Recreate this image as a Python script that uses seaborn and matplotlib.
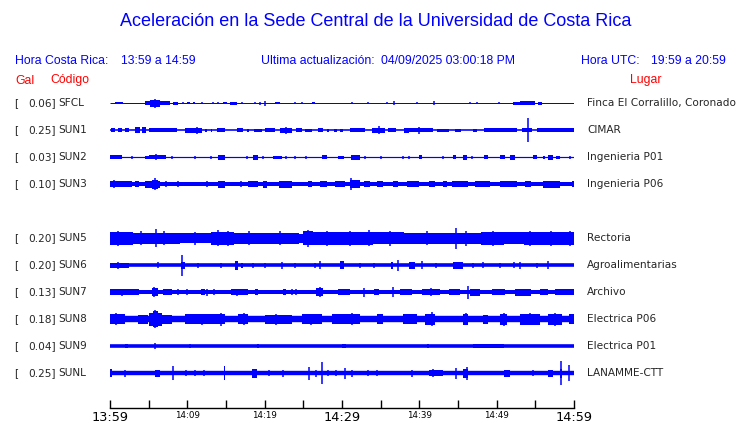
import matplotlib
matplotlib.use("Agg")
import matplotlib.pyplot as plt
import matplotlib.transforms as mtransforms
import seaborn as sns

# stations, top to bottom (row 4 is left empty)
codes = ["SFCL", "SUN1", "SUN2", "SUN3", "SUN5", "SUN6", "SUN7", "SUN8", "SUN9", "SUNL"]
peak_gal = [0.06, 0.25, 0.03, 0.10, 0.20, 0.20, 0.13, 0.18, 0.04, 0.25]
places = ["Finca El Corralillo, Coronado", "CIMAR", "Ingenieria P01", "Ingenieria P06",
          "Rectoria", "Agroalimentarias", "Archivo", "Electrica P06", "Electrica P01", "LANAMME-CTT"]
rows = [0, 1, 2, 3, 5, 6, 7, 8, 9, 10]

# background noise level (half amplitude, screen px)
base_amp = [0.5, 0.8, 0.6, 2.0, 4.5, 1.8, 2.0, 3.2, 1.8, 2.2]

# bursts: (start minute, end minute, half amplitude); start == end is a single spike
sfcl = [(0.7, 1.7, 1.2), (4.5, 5.2, 2), (5.2, 6.5, 3.5), (6.5, 7.8, 2), (5.8, 5.8, 4.5),
        (8.1, 8.8, 1.5), (9.4, 9.4, 1.2), (10.0, 10.3, 1.2), (10.7, 11.0, 1.2), (11.9, 11.9, 1.2),
        (13.3, 13.3, 1.2), (14.0, 14.0, 1.2), (14.6, 15.1, 1.2), (15.5, 16.4, 1.5), (17.1, 17.1, 1.2),
        (18.8, 18.8, 1.2), (19.4, 19.4, 1.5), (20.0, 20.0, 2.5), (21.3, 22.0, 1.2), (23.9, 23.9, 1.2),
        (24.8, 24.8, 1.2), (26.1, 26.5, 1.2), (31.3, 31.3, 1.2), (33.4, 33.4, 1.2), (35.8, 35.8, 1.2),
        (36.7, 36.7, 2), (39.7, 39.7, 1.2), (41.9, 41.9, 2), (46.6, 46.6, 1.2), (47.5, 47.5, 1.2),
        (50.3, 50.3, 1.2), (52.1, 53.0, 1.5), (53.0, 55.0, 2.2), (55.3, 55.9, 1.5)]
sun1 = [(0.1, 0.6, 2), (1.0, 1.5, 2), (1.9, 2.5, 2), (3.2, 3.9, 3), (4.1, 4.7, 3), (5.0, 8.6, 2),
        (9.7, 11.9, 2.5), (11.2, 11.2, 3.5), (12.3, 12.6, 1.5), (13.1, 13.2, 1.5), (13.8, 14.9, 2),
        (16.4, 17.2, 2), (17.7, 18.0, 1.5), (18.6, 19.6, 1.5), (20.0, 21.3, 2), (22.0, 23.5, 2.5),
        (22.7, 22.7, 3.5), (24.1, 24.8, 2), (25.2, 26.1, 1.5), (26.9, 27.6, 2), (28.0, 28.3, 1.5),
        (29.0, 29.3, 1.5), (29.7, 30.1, 1.5), (31.0, 33.0, 2), (33.9, 35.6, 2.5), (34.8, 34.8, 4),
        (36.0, 37.0, 2), (38.0, 38.6, 2.5), (38.5, 41.8, 2), (39.9, 39.9, 3.5), (42.3, 43.8, 1.5),
        (44.6, 45.4, 1.5), (46.9, 47.5, 1.5), (48.3, 52.6, 2), (53.3, 54.6, 2), (54.1, 54.1, 12),
        (55.2, 60.0, 2.2)]
sun2 = [(0.0, 1.5, 2), (2.8, 2.8, 1.5), (4.5, 5.0, 1.5), (5.0, 7.3, 2), (6.0, 6.0, 3), (8.0, 8.0, 1.5),
        (11.0, 11.0, 1.5), (13.1, 13.1, 1.5), (14.0, 14.9, 2.5), (17.7, 17.7, 1.5), (18.5, 19.2, 2.5),
        (19.8, 19.8, 1.5), (21.1, 22.2, 1.5), (22.8, 22.8, 1.5), (23.9, 23.9, 1.5), (25.4, 25.4, 1.5),
        (27.4, 28.0, 2), (29.5, 30.2, 1.5), (31.2, 32.3, 2.5), (33.0, 33.0, 1.5), (35.1, 35.1, 1.5),
        (37.9, 37.9, 1.5), (38.6, 38.6, 1.5), (39.9, 40.3, 2), (43.1, 43.1, 1.5), (44.4, 44.8, 2),
        (45.6, 46.1, 2.5), (46.8, 46.8, 1.5), (48.3, 48.9, 2), (50.4, 51.1, 2), (51.7, 52.4, 2.5),
        (54.7, 55.2, 2), (56.0, 56.2, 1.5), (56.7, 57.3, 2.5), (57.7, 58.2, 1.5), (59.5, 59.5, 1.5)]
sun3 = [(0.0, 2.8, 3.2), (0.5, 0.5, 4), (3.2, 3.7, 3), (4.5, 6.5, 3.5), (5.4, 6.2, 4.5), (5.8, 5.8, 6),
        (7.3, 7.3, 3), (8.8, 8.8, 3), (12.5, 12.5, 3), (14.0, 14.9, 3.5), (17.0, 17.0, 3),
        (17.9, 19.2, 3.2), (19.8, 20.3, 3.5), (21.8, 23.5, 3.5), (25.6, 26.1, 3), (27.2, 28.0, 3.2),
        (29.1, 30.4, 3), (31.0, 32.3, 4), (31.2, 31.2, 6), (32.8, 33.6, 3), (34.5, 35.3, 3),
        (36.6, 37.3, 3), (38.4, 39.9, 3.2), (41.2, 42.0, 3.2), (43.0, 43.6, 3), (44.2, 46.3, 3.2),
        (47.2, 49.1, 3.2), (50.4, 52.6, 3.2), (53.7, 54.5, 3.2), (56.0, 58.2, 3.5), (59.7, 60.0, 3)]
sun5 = [(0.0, 3.0, 6.5), (1.0, 1.0, 7.5), (3.0, 5.0, 5.5), (4.0, 4.0, 7), (5.9, 5.9, 9), (5.0, 9.0, 5.5),
        (7.0, 7.0, 7), (9.0, 13.0, 5), (11.0, 11.0, 6.5), (13.0, 16.0, 6.5), (14.0, 14.0, 8),
        (15.2, 15.2, 7.5), (16.0, 20.0, 5.5), (18.0, 18.0, 7), (20.0, 24.5, 5.5), (22.0, 22.0, 7),
        (25.0, 26.3, 7), (25.6, 25.6, 8.5), (26.3, 30.0, 6.5), (28.0, 28.0, 7.5), (30.0, 34.0, 6.5),
        (31.0, 31.0, 7.5), (33.5, 33.5, 8), (34.0, 38.0, 6), (36.2, 36.2, 7.5), (38.0, 44.0, 5.5),
        (41.0, 41.0, 7), (44.7, 44.7, 10.5), (44.0, 48.0, 5.5), (46.0, 46.0, 7.5), (48.0, 51.0, 6.5),
        (49.5, 49.5, 7.5), (51.0, 53.5, 6), (54.3, 54.3, 7.5), (53.5, 60.0, 6.5), (57.0, 57.0, 7.5),
        (59.5, 59.5, 7.5)]
sun6 = [(0.0, 2.4, 2.5), (1.0, 1.0, 3.5), (6.2, 6.2, 3), (9.2, 9.7, 3.5), (9.35, 9.35, 10.5),
        (11.4, 11.4, 2.5), (14.4, 14.4, 2.5), (16.2, 16.6, 4.5), (17.0, 17.2, 2.5), (18.5, 18.5, 2.5),
        (20.0, 20.0, 2.5), (22.2, 22.2, 3.5), (23.9, 23.9, 2.5), (26.5, 26.5, 2.5), (27.2, 27.2, 4),
        (29.7, 30.2, 4), (32.3, 32.3, 2.5), (34.1, 34.1, 2.5), (36.4, 36.6, 3.5), (37.3, 37.3, 5.5),
        (38.7, 39.4, 3.5), (40.3, 40.3, 4), (42.2, 42.2, 2.5), (44.4, 45.7, 3.5), (46.9, 46.9, 2.5),
        (48.2, 48.2, 3), (50.4, 50.4, 2.5), (52.2, 52.2, 3), (53.0, 53.0, 3.5), (55.2, 55.2, 2.5),
        (56.7, 56.7, 4)]
sun7 = [(0.0, 3.7, 2.8), (1.5, 1.5, 3.5), (5.4, 6.2, 4), (5.7, 5.7, 5), (6.9, 8.0, 3), (8.8, 8.8, 3),
        (9.9, 9.9, 3), (11.8, 12.3, 3), (12.6, 12.6, 3.5), (13.4, 13.4, 3), (15.7, 17.9, 3.2),
        (16.4, 16.4, 3.5), (18.8, 19.2, 3), (22.4, 22.8, 3), (23.5, 23.5, 3), (24.1, 24.1, 3),
        (26.6, 27.6, 4), (27.1, 27.1, 5), (29.5, 31.0, 3), (32.8, 32.8, 4.5), (34.1, 34.8, 3),
        (36.6, 36.6, 5), (37.5, 39.0, 3.2), (40.3, 42.7, 3), (41.5, 41.5, 4), (43.8, 45.3, 3),
        (46.3, 46.3, 6.5), (46.6, 47.8, 3.5), (49.4, 51.1, 3), (52.4, 54.5, 3.5), (55.6, 56.7, 3),
        (57.5, 60.0, 3)]
sun8 = [(0.0, 2.0, 5), (0.8, 0.8, 6), (3.6, 4.9, 4.5), (5.0, 6.7, 6.5), (5.6, 6.2, 8), (5.8, 5.8, 9),
        (6.7, 8.0, 4.5), (9.7, 14.9, 5), (11.9, 11.9, 5.5), (14.4, 14.4, 6.5), (16.6, 17.9, 5),
        (17.3, 17.3, 6), (20.0, 23.5, 4.5), (21.5, 21.5, 5.5), (24.8, 27.4, 5), (26.0, 26.0, 5.5),
        (28.7, 32.3, 5), (31.3, 31.3, 6), (34.5, 35.3, 5), (37.9, 39.7, 5), (40.7, 42.0, 5.5),
        (41.7, 41.7, 7), (45.6, 46.3, 5.5), (46.0, 46.0, 6), (48.2, 48.9, 4.5), (50.4, 51.3, 5.5),
        (50.9, 50.9, 6.5), (53.0, 55.6, 5.5), (54.3, 54.3, 6), (56.7, 58.4, 5.5), (57.6, 57.6, 6.5),
        (59.3, 60.0, 5)]
sun9 = [(2.0, 2.3, 2.3), (5.8, 5.8, 3), (10.4, 10.4, 2.3), (19.0, 19.3, 2.3), (30.0, 30.5, 2.3),
        (41.0, 41.2, 2.3), (47.0, 51.0, 2.3)]
sunl = [(0.0, 0.3, 4), (1.9, 1.9, 3.5), (5.8, 6.5, 3.5), (8.2, 8.2, 7), (9.8, 9.8, 3), (11.0, 11.0, 3),
        (12.2, 12.2, 3), (14.7, 14.9, 7), (18.3, 19.0, 4.5), (20.5, 20.5, 3), (22.4, 22.4, 3.5),
        (25.7, 25.7, 6.5), (26.7, 26.7, 3.5), (27.4, 27.4, 10.8), (28.2, 28.2, 3), (29.2, 29.2, 3),
        (30.4, 30.4, 5.5), (31.3, 31.3, 3.5), (33.4, 33.4, 3), (34.5, 34.5, 3), (39.0, 39.0, 3.5),
        (41.2, 43.1, 3.2), (41.8, 41.8, 4), (44.8, 44.8, 5.5), (45.6, 46.3, 4.5), (46.1, 46.1, 6.5),
        (50.9, 51.7, 3.5), (54.7, 54.7, 3), (56.7, 57.3, 3.5), (58.2, 58.5, 4.5), (58.3, 58.3, 11.8),
        (59.3, 59.3, 8)]
bursts = [sfcl, sun1, sun2, sun3, sun5, sun6, sun7, sun8, sun9, sunl]

tick_minutes = list(range(0, 61, 5))
tick_labels = ["13:59", "", "14:09", "", "14:19", "", "14:29", "", "14:39", "", "14:49", "", "14:59"]

sns.set_theme(style="white")
plt.rcParams["font.family"] = ["DejaVu Sans"]

BLUE = "#0000ff"
RED = "#ff0000"
PX = 27.0  # screen px per row

fig = plt.figure(figsize=(7.4, 4.23), dpi=100)
ax = fig.add_axes([110 / 740, 15 / 423, 464 / 740, 319 / 423])

for row, base, bl in zip(rows, base_amp, bursts):
    ax.hlines(row, 0, 60, color=BLUE, lw=2 * base * 0.72)
    for t0, t1, a in bl:
        if t1 > t0:
            ax.fill_between([t0, t1], row - a / PX, row + a / PX, color=BLUE, lw=0)
        else:
            ax.vlines(t0, row - a / PX, row + a / PX, color=BLUE, lw=1.1)

ax.set_xlim(0, 60)
ax.set_ylim((408 - 103) / PX, (89 - 103) / PX)
ax.set_yticks([])
ax.set_xticks(tick_minutes)
ax.set_xticklabels(tick_labels)
for i, lab in enumerate(ax.get_xticklabels()):
    lab.set_fontsize(9.3 if tick_minutes[i] % 30 == 0 else 6.3)
ax.tick_params(axis="x", direction="in", length=5.8, width=1, pad=2, colors="black", bottom=True)
sns.despine(ax=ax, left=True, top=True, right=True)
ax.spines["bottom"].set_color("black")
ax.spines["bottom"].set_linewidth(1)
ax.patch.set_alpha(0)

# station labels
tr = mtransforms.blended_transform_factory(fig.transFigure, ax.transData)
for row, g, c, p in zip(rows, peak_gal, codes, places):
    ax.text(14 / 740, row, "[", transform=tr, ha="left", va="center", fontsize=7.6)
    ax.text(56 / 740, row, f"{g:.2f}]", transform=tr, ha="right", va="center", fontsize=7.6)
    ax.text(58 / 740, row, c, transform=tr, ha="left", va="center", fontsize=7.6)
    ax.text(587 / 740, row, p, transform=tr, ha="left", va="center", fontsize=7.6)

# header texts
hf = "Liberation Sans"
fig.text(375.5 / 740, 1 - 22 / 423, "Aceleración en la Sede Central de la Universidad de Costa Rica",
         ha="center", va="center", color=BLUE, fontsize=13, family=hf)
hy = 1 - 61 / 423
fig.text(15 / 740, hy, "Hora Costa Rica:", ha="left", va="center", color=BLUE, fontsize=8.8, family=hf)
fig.text(121 / 740, hy, "13:59 a 14:59", ha="left", va="center", color=BLUE, fontsize=8.8, family=hf)
fig.text(261 / 740, hy, "Ultima actualización:", ha="left", va="center", color=BLUE, fontsize=8.8, family=hf)
fig.text(381 / 740, hy, "04/09/2025 03:00:18 PM", ha="left", va="center", color=BLUE, fontsize=8.8, family=hf)
fig.text(581 / 740, hy, "Hora UTC:", ha="left", va="center", color=BLUE, fontsize=8.8, family=hf)
fig.text(651 / 740, hy, "19:59 a 20:59", ha="left", va="center", color=BLUE, fontsize=8.8, family=hf)
gy = 1 - 80.5 / 423
fig.text(15 / 740, gy, "Gal", ha="left", va="center", color=RED, fontsize=8.8, family=hf)
fig.text(50 / 740, gy, "Código", ha="left", va="center", color=RED, fontsize=8.8, family=hf)
fig.text(630 / 740, gy, "Lugar", ha="left", va="center", color=RED, fontsize=8.8, family=hf)

fig.savefig("out.png", dpi=100, facecolor="white")
